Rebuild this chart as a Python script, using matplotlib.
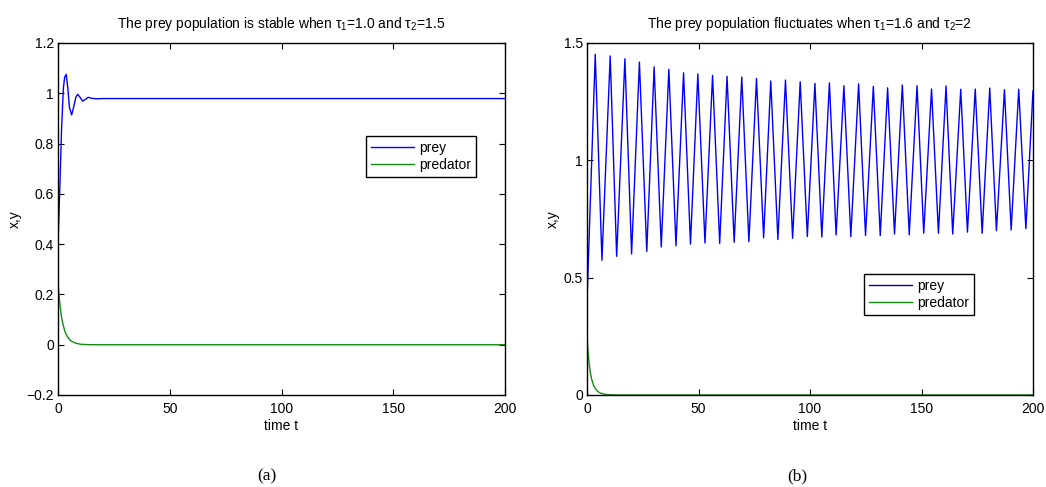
import matplotlib
matplotlib.use("Agg")
import matplotlib.pyplot as plt
from matplotlib.ticker import FuncFormatter

plt.rcParams["font.family"] = ["Liberation Sans", "DejaVu Sans"]

# panel (a): stable case, tau1=1.0, tau2=1.5
prey_a_t = [0, 0.8, 1.6, 2.4, 3.0, 3.7, 4.4, 5.1, 6.1, 7.0, 8.0, 8.8, 9.8, 11.0, 12.3, 13.6, 15.0, 17.0, 20.0, 200.0]
prey_a_y = [0.40, 0.62, 0.86, 1.02, 1.065, 1.075, 1.02, 0.945, 0.914, 0.945, 0.985, 0.996, 0.985, 0.969, 0.976, 0.984, 0.980, 0.978, 0.979, 0.979]
pred_a_t = [0, 0.5, 1, 1.5, 2, 3, 4, 5, 6, 8, 10, 13, 16, 200]
pred_a_y = [0.25, 0.19, 0.15, 0.115, 0.09, 0.055, 0.035, 0.022, 0.014, 0.006, 0.002, 0.0005, 0.0, 0.0]

# panel (b): oscillating case, tau1=1.6, tau2=2  (peaks / troughs)
peak_b_t = [3.7, 10.4, 17.0, 23.5, 30.1, 36.7, 43.3, 49.7, 56.3, 62.8, 69.4, 76.0, 82.4, 89.0, 95.6, 102.2,
            108.7, 115.2, 121.8, 128.4, 134.8, 141.4, 148.0, 154.5, 161.0, 167.6, 174.1, 180.6, 187.2, 193.6, 200.0]
peak_b_y = [1.452, 1.445, 1.433, 1.419, 1.398, 1.388, 1.373, 1.368, 1.362, 1.358, 1.355, 1.349, 1.338, 1.342,
            1.335, 1.328, 1.330, 1.318, 1.326, 1.315, 1.309, 1.321, 1.318, 1.304, 1.317, 1.303, 1.304, 1.308,
            1.301, 1.303, 1.296]
trough_b_t = [6.7, 13.3, 20.0, 26.8, 33.3, 39.9, 46.4, 52.9, 59.5, 66.0, 72.6, 79.2, 85.6, 92.2, 98.8, 105.3,
              111.7, 118.3, 124.9, 131.5, 137.9, 144.5, 151.0, 157.6, 164.0, 170.6, 177.2, 183.6, 190.2, 196.8]
trough_b_y = [0.574, 0.591, 0.601, 0.612, 0.631, 0.636, 0.643, 0.648, 0.646, 0.651, 0.653, 0.670, 0.663, 0.668,
              0.675, 0.673, 0.682, 0.675, 0.680, 0.679, 0.686, 0.683, 0.690, 0.689, 0.686, 0.694, 0.689, 0.700,
              0.703, 0.709]
prey_b_start = (0.0, 0.40)
pred_b_t = [0, 0.5, 1, 1.5, 2, 3, 4, 5, 6, 8, 10, 13, 200]
pred_b_y = [0.25, 0.18, 0.13, 0.095, 0.07, 0.04, 0.024, 0.014, 0.008, 0.003, 0.001, 0.0, 0.0]

# merge peaks and troughs in time order
ext = sorted(zip(peak_b_t + trough_b_t, peak_b_y + trough_b_y))
prey_b_t = [prey_b_start[0]] + [p[0] for p in ext]
prey_b_y = [prey_b_start[1]] + [p[1] for p in ext]

BLUE = "#0000ff"
GREEN = "#118c11"
FS = 10

fig = plt.figure(figsize=(10.46, 4.87), dpi=100)
W, H = 1046, 487


def px_axes(x0, y0, x1, y1):
    return fig.add_axes([x0 / W, 1 - y1 / H, (x1 - x0) / W, (y1 - y0) / H])


fmt = FuncFormatter(lambda v, p: ("%g" % round(v, 6)).replace("-", "\u2212"))


def style(ax):
    ax.tick_params(direction="in", length=4, top=True, right=True, labelsize=FS, width=0.8)
    ax.tick_params(axis="x", pad=5)
    ax.tick_params(axis="y", pad=3)
    for s in ax.spines.values():
        s.set_linewidth(1.0)
    ax.yaxis.set_major_formatter(fmt)
    ax.xaxis.set_major_formatter(fmt)
    ax.set_xlabel("time t", fontsize=FS, labelpad=2)
    ax.set_ylabel("x,y", fontsize=FS, labelpad=3)


def legend(ax, x0, y0):
    lg = ax.legend(loc="upper left", bbox_to_anchor=(x0 / W, 1 - y0 / H), bbox_transform=fig.transFigure,
                   fontsize=FS, fancybox=False, framealpha=1, edgecolor="black", borderpad=0.35,
                   handlelength=3.1, handletextpad=0.4, labelspacing=0.22, borderaxespad=0)
    lg.get_frame().set_linewidth(1.0)
    return lg


axa = px_axes(58, 43, 505, 395)
axa.plot(prey_a_t, prey_a_y, color=BLUE, lw=1.0, label="prey")
axa.plot(pred_a_t, pred_a_y, color=GREEN, lw=1.0, label="predator")
axa.set_xlim(0, 200)
axa.set_ylim(-0.2, 1.2)
axa.set_xticks([0, 50, 100, 150, 200])
axa.set_yticks([-0.2, 0, 0.2, 0.4, 0.6, 0.8, 1.0, 1.2])
style(axa)
axa.set_title("The prey population is stable when $\\mathregular{\\tau_1}$=1.0 and $\\mathregular{\\tau_2}$=1.5",
              fontsize=FS, pad=11)
legend(axa, 366, 136)

axb = px_axes(587, 43, 1033, 395)
axb.plot(prey_b_t, prey_b_y, color=BLUE, lw=1.0, label="prey")
axb.plot(pred_b_t, pred_b_y, color=GREEN, lw=1.0, label="predator")
axb.set_xlim(0, 200)
axb.set_ylim(0, 1.5)
axb.set_xticks([0, 50, 100, 150, 200])
axb.set_yticks([0, 0.5, 1.0, 1.5])
style(axb)
axb.set_title("The prey population fluctuates when $\\mathregular{\\tau_1}$=1.6 and $\\mathregular{\\tau_2}$=2",
              fontsize=FS, pad=11)
legb = legend(axb, 864, 274)
legb.get_lines()[0].set_color("#0000a0")

fig.text(267 / W, 1 - 476 / H, "(a)", ha="center", va="center", fontsize=12.5, family="Liberation Serif")
fig.text(797 / W, 1 - 476 / H, "(b)", ha="center", va="center", fontsize=12.5, family="Liberation Serif")

fig.savefig("out.png", dpi=100)
